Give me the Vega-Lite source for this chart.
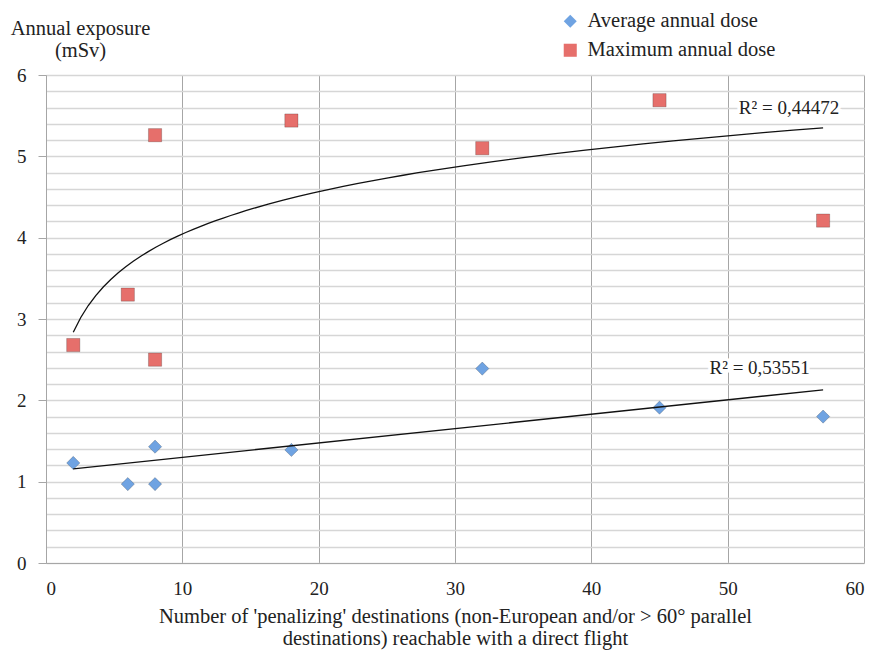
{
  "$schema": "https://vega.github.io/schema/vega-lite/v6.json",
  "width": 818,
  "height": 488,
  "autosize": {"type": "none"},
  "padding": {"left": 46, "top": 75, "right": 8, "bottom": 87},
  "background": "white",
  "config": {
    "font": "Liberation Serif",
    "view": {"stroke": null},
    "axis": {"labelFont": "Liberation Serif", "titleFont": "Liberation Serif", "labelColor": "#222", "titleColor": "#222", "titleFontWeight": "normal"},
    "legend": {"labelFont": "Liberation Serif", "labelColor": "#222"}
  },
  "datasets": {
    "pts": [
      {"x": 2, "y": 1.23, "series": "Average annual dose"},
      {"x": 6, "y": 0.97, "series": "Average annual dose"},
      {"x": 8, "y": 1.43, "series": "Average annual dose"},
      {"x": 8, "y": 0.97, "series": "Average annual dose"},
      {"x": 18, "y": 1.39, "series": "Average annual dose"},
      {"x": 32, "y": 2.39, "series": "Average annual dose"},
      {"x": 45, "y": 1.91, "series": "Average annual dose"},
      {"x": 57, "y": 1.80, "series": "Average annual dose"},
      {"x": 2, "y": 2.68, "series": "Maximum annual dose"},
      {"x": 6, "y": 3.30, "series": "Maximum annual dose"},
      {"x": 8, "y": 5.26, "series": "Maximum annual dose"},
      {"x": 8, "y": 2.50, "series": "Maximum annual dose"},
      {"x": 18, "y": 5.44, "series": "Maximum annual dose"},
      {"x": 32, "y": 5.10, "series": "Maximum annual dose"},
      {"x": 45, "y": 5.69, "series": "Maximum annual dose"},
      {"x": 57, "y": 4.21, "series": "Maximum annual dose"}
    ],
    "labels": [
      {"x": 54.5, "y": 5.59, "text": "R² = 0,44472"},
      {"x": 52.35, "y": 2.40, "text": "R² = 0,53551"}
    ]
  },
  "layer": [
    {
      "data": {"name": "pts"},
      "mark": {"type": "point", "filled": true, "opacity": 1, "size": 175, "stroke": "#000", "strokeOpacity": 0.2, "strokeWidth": 1},
      "encoding": {
        "x": {
          "field": "x", "type": "quantitative",
          "scale": {"domain": [0, 60], "nice": false, "zero": false},
          "axis": {
            "values": [0, 10, 20, 30, 40, 50, 60],
            "grid": true, "gridColor": "#a6a6a6", "gridWidth": 1,
            "ticks": false, "domain": true, "domainColor": "#a6a6a6",
            "labelFontSize": 19, "labelPadding": 16, "format": "d",
            "title": ["Number of 'penalizing' destinations (non-European and/or > 60° parallel", "destinations) reachable with a direct flight"],
            "titleFontSize": 20.5, "titleAlign": "center", "titleAnchor": null,
            "titleX": 409, "titleY": 59, "titleBaseline": "alphabetic", "titleLineHeight": 22.5
          }
        },
        "y": {
          "field": "y", "type": "quantitative",
          "scale": {"domain": [0, 6], "nice": false, "zero": false},
          "axis": {
            "values": [0, 0.2, 0.4, 0.6, 0.8, 1, 1.2, 1.4, 1.6, 1.8, 2, 2.2, 2.4, 2.6, 2.8, 3, 3.2, 3.4, 3.6, 3.8, 4, 4.2, 4.4, 4.6, 4.8, 5, 5.2, 5.4, 5.6, 5.8, 6],
            "tickCount": 100, "labelOverlap": false,
            "grid": true, "gridColor": "#d6d6d6", "gridWidth": 1.5,
            "tickSize": 8, "tickColor": "#a6a6a6",
            "tickOpacity": {"condition": {"test": "datum.value % 1 === 0", "value": 1}, "value": 0},
            "labelExpr": "datum.value % 1 === 0 ? format(datum.value, 'd') : ''",
            "domain": true, "domainColor": "#a6a6a6",
            "labelFontSize": 19, "labelPadding": 12,
            "title": ["Annual exposure", "(mSv)"],
            "titleFontSize": 20.5, "titleAngle": 0, "titleAlign": "center", "titleAnchor": null,
            "titleX": 34, "titleY": -41, "titleBaseline": "alphabetic", "titleLineHeight": 22
          }
        },
        "shape": {
          "field": "series", "type": "nominal",
          "scale": {"domain": ["Average annual dose", "Maximum annual dose"], "range": ["diamond", "square"]},
          "legend": {
            "title": null, "orient": "none", "legendX": 514, "legendY": -64,
            "labelFontSize": 20.5, "labelLimit": 400, "symbolSize": 170, "rowPadding": 8, "labelOffset": 7,
            "symbolStrokeWidth": 0
          }
        },
        "color": {
          "field": "series", "type": "nominal",
          "scale": {"domain": ["Average annual dose", "Maximum annual dose"], "range": ["#6fa3e2", "#e66f6b"]}
        }
      }
    },
    {
      "data": {"name": "pts"},
      "transform": [
        {"filter": "datum.series === 'Average annual dose'"},
        {"regression": "y", "on": "x", "method": "linear", "extent": [2, 57]}
      ],
      "mark": {"type": "line", "color": "#111", "strokeWidth": 1.3},
      "encoding": {
        "x": {"field": "x", "type": "quantitative"},
        "y": {"field": "y", "type": "quantitative"}
      }
    },
    {
      "data": {"name": "pts"},
      "transform": [
        {"filter": "datum.series === 'Maximum annual dose'"},
        {"regression": "y", "on": "x", "method": "log", "extent": [2, 57]}
      ],
      "mark": {"type": "line", "color": "#111", "strokeWidth": 1.3},
      "encoding": {
        "x": {"field": "x", "type": "quantitative"},
        "y": {"field": "y", "type": "quantitative"}
      }
    },
    {
      "data": {"name": "labels"},
      "mark": {"type": "text", "fontSize": 19, "stroke": "white", "strokeWidth": 7, "fill": "white", "align": "center", "baseline": "middle"},
      "encoding": {
        "x": {"field": "x", "type": "quantitative"},
        "y": {"field": "y", "type": "quantitative"},
        "text": {"field": "text"}
      }
    },
    {
      "data": {"name": "labels"},
      "mark": {"type": "text", "fontSize": 19, "color": "#222", "align": "center", "baseline": "middle"},
      "encoding": {
        "x": {"field": "x", "type": "quantitative"},
        "y": {"field": "y", "type": "quantitative"},
        "text": {"field": "text"}
      }
    }
  ]
}
